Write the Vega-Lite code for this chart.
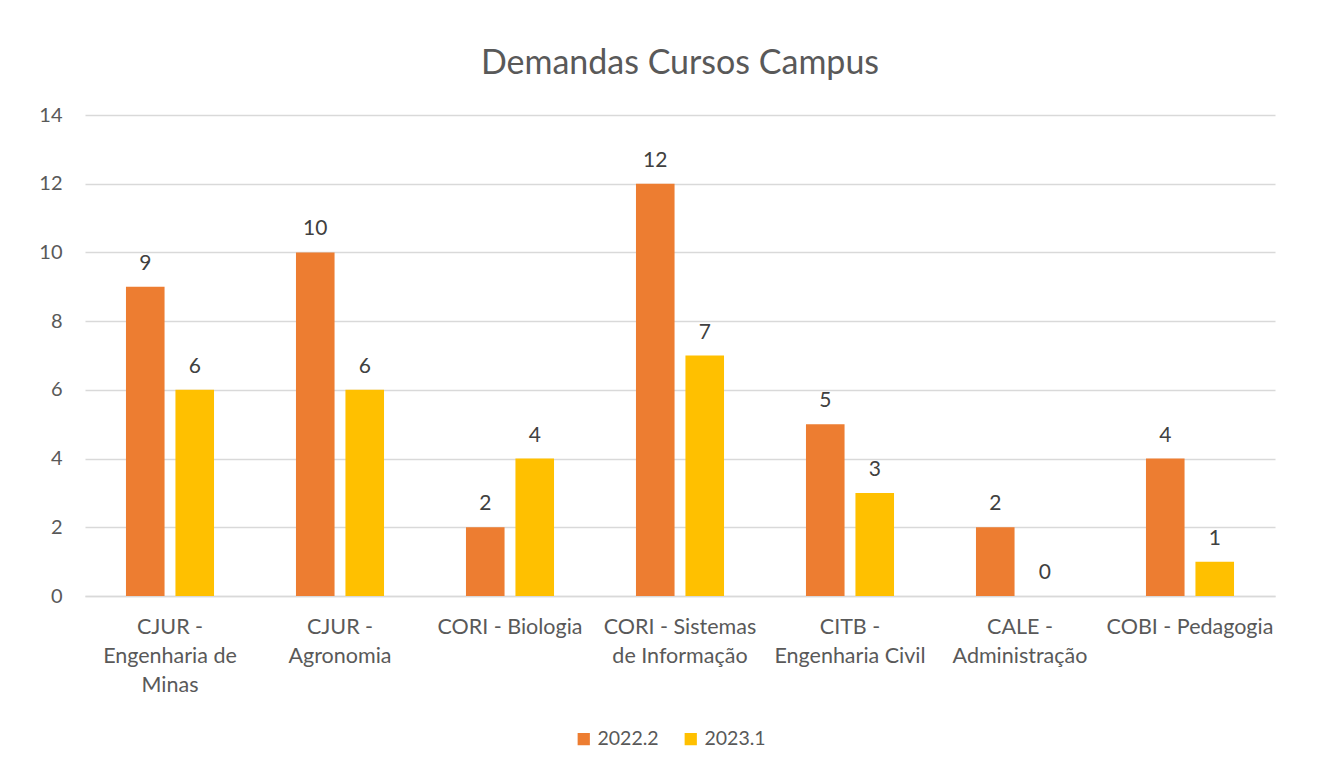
{
  "$schema": "https://vega.github.io/schema/vega-lite/v6.json",
  "width": 1190,
  "height": 481,
  "padding": {"left": 25, "top": 47, "right": 46, "bottom": 20},
  "background": "white",
  "title": {
    "text": "Demandas Cursos Campus",
    "fontSize": 34,
    "font": "Lato",
    "fontWeight": "normal",
    "color": "#595959",
    "offset": 24,
    "anchor": "middle"
  },
  "data": {
    "values": [
      {"curso": "CJUR - Engenharia de Minas", "periodo": "2022.2", "demandas": 9},
      {"curso": "CJUR - Engenharia de Minas", "periodo": "2023.1", "demandas": 6},
      {"curso": "CJUR - Agronomia", "periodo": "2022.2", "demandas": 10},
      {"curso": "CJUR - Agronomia", "periodo": "2023.1", "demandas": 6},
      {"curso": "CORI - Biologia", "periodo": "2022.2", "demandas": 2},
      {"curso": "CORI - Biologia", "periodo": "2023.1", "demandas": 4},
      {"curso": "CORI - Sistemas de Informação", "periodo": "2022.2", "demandas": 12},
      {"curso": "CORI - Sistemas de Informação", "periodo": "2023.1", "demandas": 7},
      {"curso": "CITB - Engenharia Civil", "periodo": "2022.2", "demandas": 5},
      {"curso": "CITB - Engenharia Civil", "periodo": "2023.1", "demandas": 3},
      {"curso": "CALE - Administração", "periodo": "2022.2", "demandas": 2},
      {"curso": "CALE - Administração", "periodo": "2023.1", "demandas": 0},
      {"curso": "COBI - Pedagogia", "periodo": "2022.2", "demandas": 4},
      {"curso": "COBI - Pedagogia", "periodo": "2023.1", "demandas": 1}
    ]
  },
  "encoding": {
    "x": {
      "field": "curso",
      "type": "nominal",
      "sort": null,
      "scale": {"paddingInner": 0.482, "paddingOuter": 0.241},
      "axis": {
        "title": null,
        "labelAngle": 0,
        "labelFont": "Lato",
        "labelFontSize": 21.5,
        "labelColor": "#595959",
        "labelPadding": 20,
        "labelLineHeight": 29,
        "labelLimit": 300,
        "ticks": false,
        "domainColor": "#d9d9d9",
        "domainWidth": 1.5,
        "labelBaseline": "top",
        "labelExpr": "datum.value == 'CJUR - Engenharia de Minas' ? ['CJUR -','Engenharia de','Minas'] : datum.value == 'CJUR - Agronomia' ? ['CJUR -','Agronomia'] : datum.value == 'CORI - Sistemas de Informação' ? ['CORI - Sistemas','de Informação'] : datum.value == 'CITB - Engenharia Civil' ? ['CITB -','Engenharia Civil'] : datum.value == 'CALE - Administração' ? ['CALE -','Administração'] : datum.value"
      }
    },
    "xOffset": {
      "field": "periodo",
      "type": "nominal",
      "scale": {"paddingInner": 0.22, "paddingOuter": 0}
    },
    "y": {
      "field": "demandas",
      "type": "quantitative",
      "scale": {"domain": [0, 14], "nice": false},
      "axis": {
        "title": null,
        "values": [0, 2, 4, 6, 8, 10, 12, 14],
        "labelFont": "Lato",
        "labelFontSize": 20,
        "labelColor": "#595959",
        "labelPadding": 23,
        "ticks": false,
        "domain": false,
        "gridColor": "#d9d9d9",
        "gridWidth": 1.5,
        "minExtent": 60,
        "maxExtent": 60
      }
    }
  },
  "layer": [
    {
      "mark": {"type": "bar"},
      "encoding": {
        "color": {
          "field": "periodo",
          "type": "nominal",
          "scale": {"domain": ["2022.2", "2023.1"], "range": ["#ED7D31", "#FFC000"]},
          "legend": {
            "title": null,
            "orient": "none",
            "legendX": 489,
            "legendY": 614,
            "direction": "horizontal",
            "symbolType": "square",
            "symbolSize": 150,
            "symbolStrokeWidth": 0,
            "labelFont": "Lato",
            "labelFontSize": 19.5,
            "labelColor": "#595959",
            "columnPadding": 22
          }
        }
      }
    },
    {
      "mark": {"type": "text", "baseline": "bottom", "dy": -13, "font": "Lato", "fontSize": 21, "color": "#404040"},
      "encoding": {
        "text": {"field": "demandas", "type": "quantitative"}
      }
    }
  ],
  "config": {
    "view": {"stroke": null}
  }
}
